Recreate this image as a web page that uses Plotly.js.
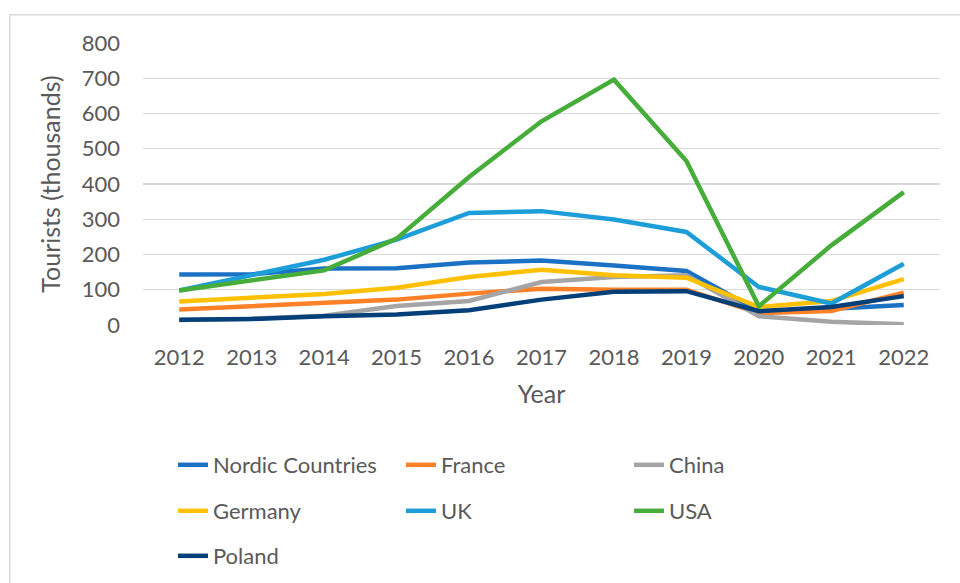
<!DOCTYPE html>
<html>
<head>
<meta charset="utf-8">
<script src="https://cdn.plot.ly/plotly-3.0.1.min.js"></script>
<style>html,body{margin:0;padding:0;background:#fff;}#chart{width:960px;height:583px;}</style>
</head>
<body>
<div id="chart"></div>
<script>
var years = ["2012","2013","2014","2015","2016","2017","2018","2019","2020","2021","2022"];
var nordic  = [143, 144, 160, 161, 177, 183, 169, 153, 39, 46, 57];
var france  = [44, 54, 65, 72, 89, 103, 100, 100, 34, 40, 92];
var china   = [14, 18, 26, 54, 68, 122, 136, 141, 25, 9, 2];
var germany = [67, 78, 88, 106, 136, 157, 141, 134, 51, 68, 130];
var uk      = [98, 141, 185, 242, 318, 323, 299, 264, 108, 61, 174];
var usa     = [98, 125, 155, 245, 420, 578, 696, 465, 53, 226, 377];
var poland  = [15, 17, 25, 30, 42, 72, 94, 96, 39, 51, 82];

var seriesNames = ["Nordic Countries","France","China","Germany","UK","USA","Poland"];
var seriesVals = [nordic, france, china, germany, uk, usa, poland];
var colors = ["#1B72C4","#FE8027","#A5A5A5","#FFC000","#1D9ED9","#46AD3A","#033F78"];
var legendIds = ["legend","legend","legend","legend2","legend2","legend2","legend3"];

var traces = seriesNames.map(function(n, i){
  return {
    x: years, y: seriesVals[i], name: n, type: "scatter", mode: "lines",
    line: {color: colors[i], width: 4.5},
    legend: legendIds[i]
  };
});

var fam = "Lato, 'Open Sans', sans-serif";
var font = {family: fam, size: 22, color: "#595959"};
var titleFont = {family: fam, size: 25, color: "#595959"};
function leg(y){
  return {orientation: "h", xref: "container", yref: "container", x: 0.1802, y: y,
    xanchor: "left", yanchor: "middle",
    entrywidth: 183, entrywidthmode: "pixels", font: font, bgcolor: "rgba(0,0,0,0)", traceorder: "normal"};
}
var layout = {
  width: 960, height: 583,
  margin: {l: 143, r: 20, t: 43, b: 258, autoexpand: false},
  paper_bgcolor: "#fff", plot_bgcolor: "#fff",
  font: font,
  showlegend: true,
  xaxis: {type: "category", range: [-0.5, 10.5], showgrid: false, zeroline: false, showline: false,
    ticks: "", ticklabelstandoff: 17, tickfont: font,
    title: {text: "Year", font: titleFont, standoff: 16}},
  yaxis: {range: [0, 800], dtick: 100, showgrid: true, gridcolor: "#D9D9D9", gridwidth: 1.3,
    zeroline: false, showline: false, ticks: "", ticklabelstandoff: 22, tickfont: font,
    title: {text: "Tourists (thousands)", font: titleFont, standoff: 13}},
  legend: leg(0.2024),
  legend2: leg(0.1235),
  legend3: leg(0.0463),
  shapes: [{type: "rect", xref: "paper", yref: "paper", x0: -0.167, x1: 1.2, y0: -1.5, y1: 1.1,
    line: {color: "#D9D9D9", width: 1.5}, fillcolor: "rgba(0,0,0,0)", layer: "below"}]
};
Plotly.newPlot("chart", traces, layout, {displayModeBar: false, staticPlot: true});
</script>
</body>
</html>
